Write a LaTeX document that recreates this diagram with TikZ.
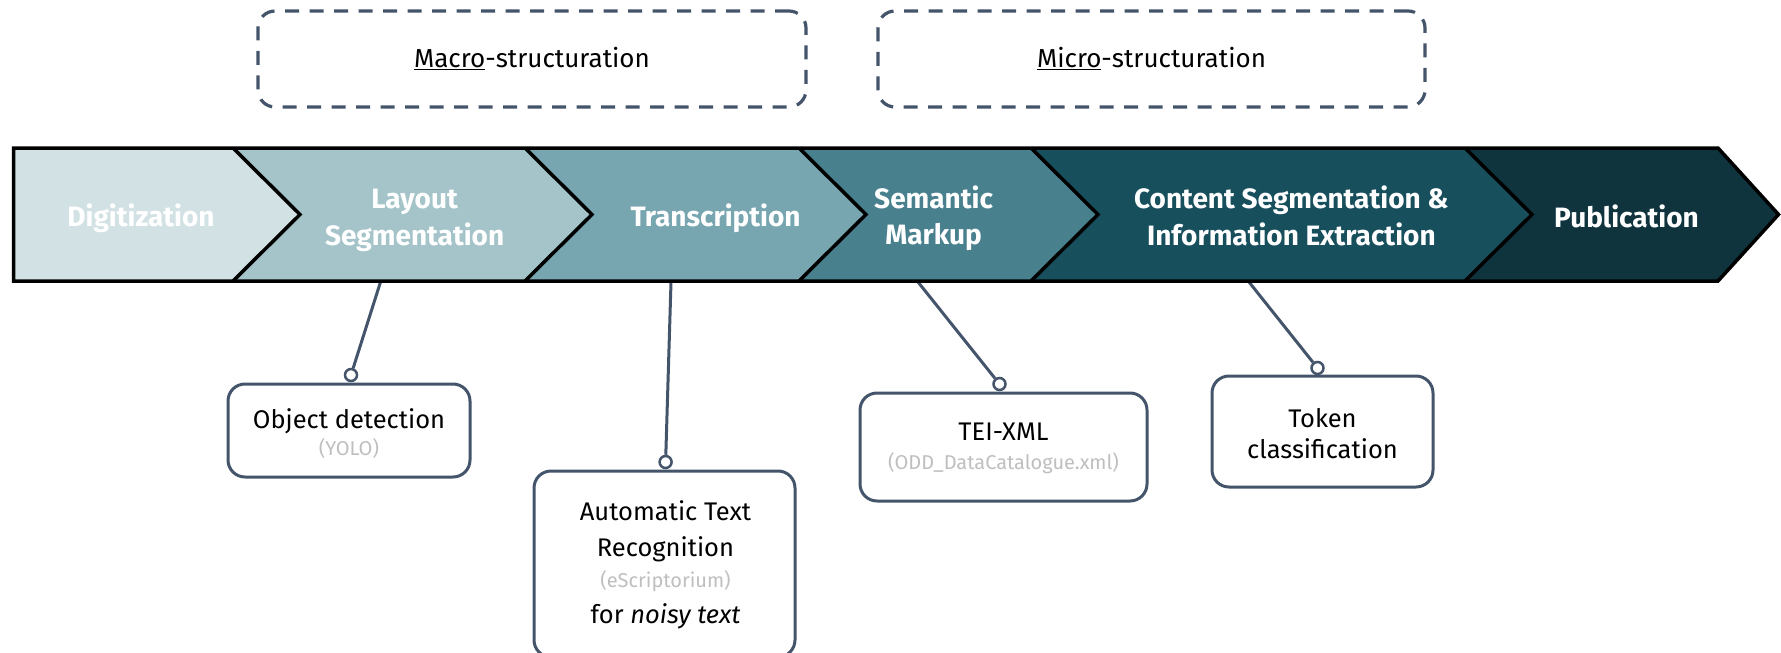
\documentclass[tikz,border=0pt]{standalone}
\usepackage{fontspec}
\setmainfont{Fira Sans}
\definecolor{cdig}{HTML}{D2E1E4}
\definecolor{clay}{HTML}{A4C4C9}
\definecolor{ctra}{HTML}{77A6B0}
\definecolor{csem}{HTML}{48808D}
\definecolor{ccon}{HTML}{174F5D}
\definecolor{cpub}{HTML}{10343D}
\definecolor{slate}{HTML}{44546A}
\definecolor{hint}{HTML}{BFBFBF}
\begin{document}
\begin{tikzpicture}[x=1pt,y=-1pt,
  chev/.style={draw=black, line width=3.5pt, line join=miter},
  bandtext/.style={text=white, font=\bfseries\fontsize{28}{36.5}\selectfont, align=center},
  stepbox/.style={draw=slate, line width=3pt, rounded corners=17pt, fill=white, inner sep=0pt},
  steptext/.style={align=center, font=\fontsize{25.5}{36}\selectfont, inner sep=0pt},
  conn/.style={draw=slate, line width=3pt},
  pin/.style={circle, draw=slate, line width=2.5pt, fill=white, minimum size=12pt, inner sep=0pt},
  dbox/.style={draw=slate, line width=3.2pt, dash pattern=on 14pt off 10.5pt, rounded corners=17pt,
     font=\fontsize{26}{30}\selectfont, inner sep=0pt}
]
\newcommand{\hintline}[1]{{\color{hint}\fontsize{20}{24}\selectfont #1}}
\useasboundingbox (0,0) rectangle (1781,653);

% dashed group boxes
\node[dbox, minimum width=548pt, minimum height=96pt] (macro) at (532,59) {\underline{Macro}-structuration};
\node[dbox, minimum width=547pt, minimum height=96pt] (micro) at (1151.5,59) {\underline{Micro}-structuration};

% band anchor coordinates (connector starts)
\coordinate (sLay) at (380.5,282);
\coordinate (sTra) at (671,282);
\coordinate (sSem) at (918,282);
\coordinate (sCon) at (1249,282);

% lower boxes
\node[stepbox, minimum width=242pt, minimum height=93pt] (obj) at (349,430.5) {};
\node[stepbox, minimum width=261pt, minimum height=186pt] (atr) at (664.5,564) {};
\node[stepbox, minimum width=287pt, minimum height=108pt] (tei) at (1003.5,447) {};
\node[stepbox, minimum width=221pt, minimum height=111pt] (tok) at (1322.5,431.5) {};

\node[steptext] (objT) at (349,434) {Object detection\\[-9pt]\hintline{(YOLO)}};
\node[steptext] (atrT) at (665.5,565) {Automatic Text\\Recognition\\[-5pt]\hintline{(eScriptorium)}\\[0pt]for \textit{noisy text}};
\node[steptext] (teiT) at (1003.5,448) {TEI-XML\\[-7pt]\hintline{(ODD\_DataCatalogue.xml)}};
\node[steptext] (tokT) at (1322.5,434) {Token\\[-5pt]classification};

% pins
\node[pin] (pObj) at (351,375) {};
\node[pin] (pAtr) at (665.6,462) {};
\node[pin] (pTei) at (999.5,384) {};
\node[pin] (pTok) at (1317.5,368) {};

% connectors
\draw[conn] (sLay) -- (pObj);
\draw[conn] (sTra) -- (pAtr);
\draw[conn] (sSem) -- (pTei);
\draw[conn] (sCon) -- (pTok);

% band chevrons
\def\bt{148}\def\bb{281}\def\bm{214.5}
\fill[cdig] (13.6,\bt) -- (233,\bt) -- (300,\bm) -- (233,\bb) -- (13.6,\bb) -- cycle;
\fill[clay] (233,\bt) -- (525,\bt) -- (592,\bm) -- (525,\bb) -- (233,\bb) -- (300,\bm) -- cycle;
\fill[ctra] (525,\bt) -- (799,\bt) -- (866,\bm) -- (799,\bb) -- (525,\bb) -- (592,\bm) -- cycle;
\fill[csem] (799,\bt) -- (1031,\bt) -- (1098,\bm) -- (1031,\bb) -- (799,\bb) -- (866,\bm) -- cycle;
\fill[ccon] (1031,\bt) -- (1465,\bt) -- (1532,\bm) -- (1465,\bb) -- (1031,\bb) -- (1098,\bm) -- cycle;
\fill[cpub] (1465,\bt) -- (1718,\bt) -- (1778.5,\bm) -- (1718,\bb) -- (1465,\bb) -- (1532,\bm) -- cycle;
\draw[chev] (13.6,\bt) -- (1718,\bt) -- (1778.5,\bm) -- (1718,\bb) -- (13.6,\bb) -- cycle;
\draw[chev] (233,\bt) -- (300,\bm) -- (233,\bb);
\draw[chev] (525,\bt) -- (592,\bm) -- (525,\bb);
\draw[chev] (799,\bt) -- (866,\bm) -- (799,\bb);
\draw[chev] (1031,\bt) -- (1098,\bm) -- (1031,\bb);
\draw[chev] (1465,\bt) -- (1532,\bm) -- (1465,\bb);

% band labels
\node[bandtext] (dig) at (141,218.3) {Digitization};
\node[bandtext] (lay) at (414.6,220.6) {Layout\\Segmentation};
\node[bandtext] (tra) at (715.6,218.3) {Transcription};
\node[bandtext] (sem) at (933.6,218.3) {Semantic\\Markup};
\node[bandtext] (con) at (1291.4,216) {Content Segmentation \&\\Information Extraction};
\node[bandtext] (pub) at (1626.5,216) {Publication};
\end{tikzpicture}
\end{document}
